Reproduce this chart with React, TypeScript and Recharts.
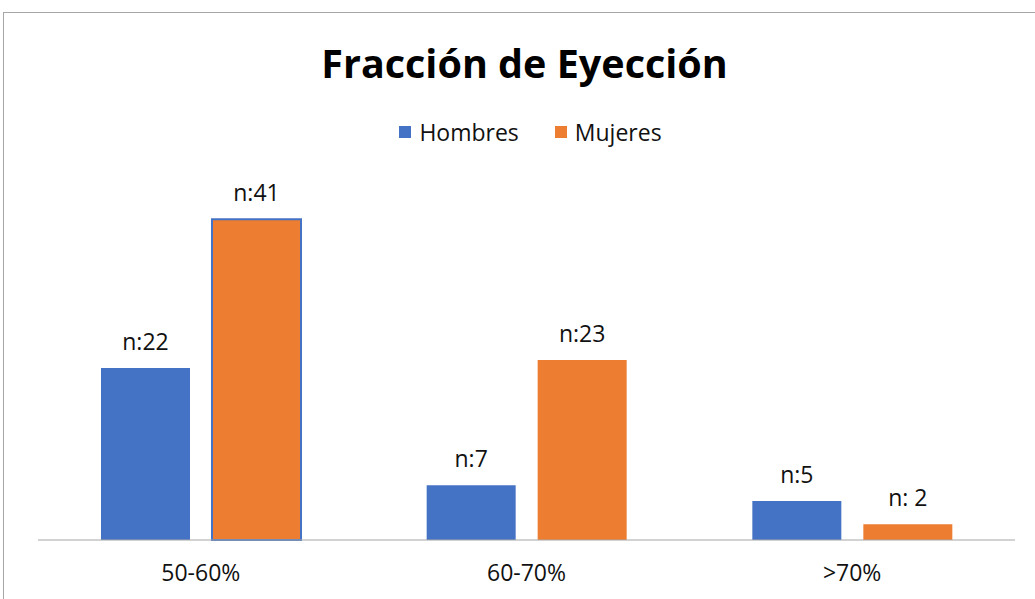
import React from "react";
import { BarChart, Bar, XAxis, YAxis, Legend, LabelList, Cell } from "recharts";

const categories = ["50-60%", "60-70%", ">70%"];
const hombres = [22, 7, 5];
const mujeres = [41, 23, 2];
const hombresLabels = ["n:22", "n:7", "n:5"];
const mujeresLabels = ["n:41", "n:23", "n: 2"];

const data = categories.map((name, i) => ({
  name,
  Hombres: hombres[i],
  Mujeres: mujeres[i],
  hLabel: hombresLabels[i],
  mLabel: mujeresLabels[i],
}));

const BLUE = "#4472C4";
const ORANGE = "#ED7D31";
const FONT = '"Open Sans", sans-serif';

const renderLegend = (props: any) => {
  const { payload } = props;
  return (
    <div style={{ display: "flex", justifyContent: "center", fontFamily: FONT, fontSize: 23, paddingLeft: 18 }}>
      {payload.map((p: any, i: number) => (
        <div key={i} style={{ display: "flex", alignItems: "center", marginRight: i === 0 ? 36 : 0 }}>
          <span style={{ width: 12, height: 12, background: p.color, display: "inline-block", marginRight: 8 }} />
          <span style={{ color: "#111" }}>{p.value}</span>
        </div>
      ))}
    </div>
  );
};

const App = () => (
  <div
    style={{
      position: "absolute",
      left: 3,
      top: 12,
      width: 1040,
      height: 600,
      border: "1px solid #a6a6a6",
      background: "#fff",
      fontFamily: FONT,
    }}
  >
    <div
      style={{
        position: "absolute",
        left: 0,
        width: 1041,
        top: 23,
        textAlign: "center",
        fontWeight: 700,
        fontSize: 39.5,
        color: "#000",
      }}
    >
      Fracción de Eyección
    </div>
    <BarChart
      width={1035}
      height={586}
      data={data}
      margin={{ top: 175, right: 24, left: 34, bottom: 0 }}
      barCategoryGap={63}
      barGap={22}
    >
      <XAxis
        dataKey="name"
        height={59}
        axisLine={{ stroke: "#a6a6a6" }}
        tickLine={false}
        tickSize={0}
        tickMargin={25}
        tick={{ fill: "#111", fontSize: 23, fontFamily: FONT }}
      />
      <YAxis hide domain={[0, 45]} />
      <Legend
        verticalAlign="middle"
        content={renderLegend}
        wrapperStyle={{ top: 103, left: 0, width: 1035 }}
      />
      <Bar dataKey="Hombres" fill={BLUE} isAnimationActive={false}>
        <LabelList dataKey="hLabel" position="top" offset={18} fill="#111" fontSize={23} fontFamily={FONT} />
      </Bar>
      <Bar dataKey="Mujeres" fill={ORANGE} isAnimationActive={false}>
        {data.map((d, i) => (
          <Cell key={i} stroke={i === 0 ? BLUE : "none"} strokeWidth={i === 0 ? 2 : 0} />
        ))}
        <LabelList dataKey="mLabel" position="top" offset={18} fill="#111" fontSize={23} fontFamily={FONT} />
      </Bar>
    </BarChart>
  </div>
);

export default App;
